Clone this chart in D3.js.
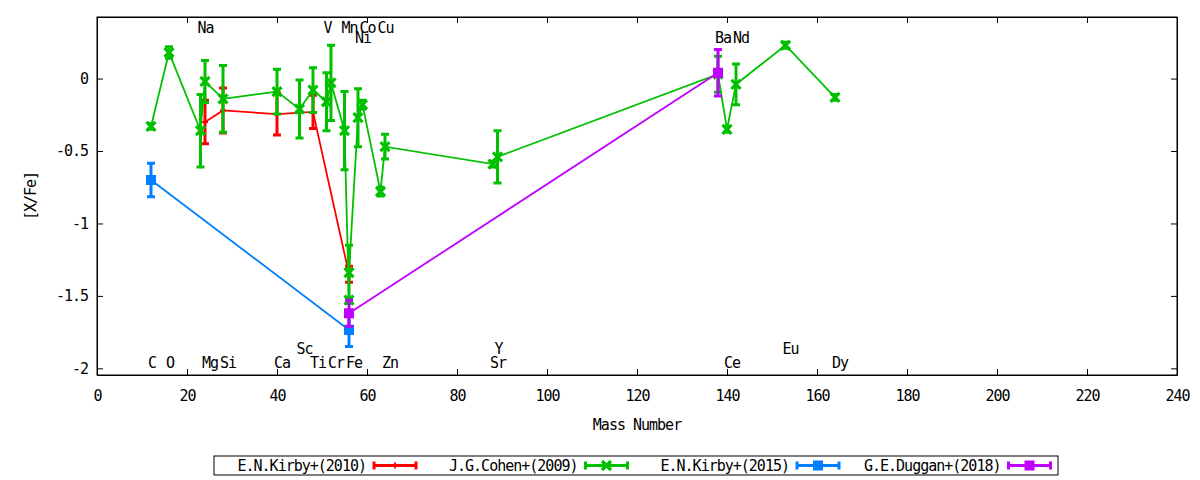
<!DOCTYPE html>
<html lang="en">
<head>
  <meta charset="UTF-8">
  <title>[X/Fe] vs Mass Number</title>
  <script src="https://d3js.org/d3.v7.min.js"></script>
  <style>
    body { margin: 0; background: #fff; }
    text {
      font-family: "DejaVu Sans Mono", monospace;
      font-size: 15px;
      letter-spacing: -1px;
      fill: #000;
    }
    .axis path, .axis line { stroke: #000; stroke-width: 1px; }
  </style>
</head>
<body>
  <div id="chart"></div>

  <script>
    // element labels along the plot
    const elementNames = ["C", "O", "Na", "Mg", "Si", "Ca", "Sc", "Ti", "V", "Cr", "Mn", "Fe", "Ni", "Co", "Cu", "Zn", "Sr", "Y", "Ba", "Ce", "Nd", "Eu", "Dy"];
    const elementMass  = [12, 16, 23, 24, 28, 40, 45, 48, 51, 52, 55, 56, 58, 59, 63, 64, 88, 89, 138, 140, 142, 153, 164];
    const elementRow   = [0, 0, 3, 0, 0, 0, 1, 0, 3, 0, 3, 0, 2, 3, 3, 0, 0, 1, 2, 0, 2, 1, 0];

    // E.N.Kirby+(2010)
    const kirby2010Mass = [24, 28, 40, 48, 56];
    const kirby2010Val  = [-0.30, -0.22, -0.245, -0.23, -1.35];
    const kirby2010Err  = [0.15, 0.155, 0.145, 0.115, 0.055];

    // J.G.Cohen+(2009)
    const cohen2009Mass = [12, 16, 23, 24, 28, 40, 45, 48, 51, 52, 55, 56, 56, 58, 59, 63, 64, 88, 89, 138, 140, 142, 153, 164];
    const cohen2009Val  = [-0.33, 0.18, -0.36, -0.02, -0.14, -0.09, -0.21, -0.08, -0.16, -0.03, -0.36, -1.53, -1.34, -0.27, -0.18, -0.78, -0.47, -0.59, -0.54, 0.03, -0.35, -0.04, 0.23, -0.13];
    const cohen2009Err  = [0.02, 0.04, 0.25, 0.145, 0.23, 0.155, 0.2, 0.155, 0.2, 0.26, 0.27, 0.02, 0.19, 0.2, 0.03, 0.03, 0.085, 0.02, 0.18, 0.124, 0.02, 0.14, 0.02, 0.02];

    // E.N.Kirby+(2015)
    const kirby2015Mass = [12, 56];
    const kirby2015Val  = [-0.70, -1.735];
    const kirby2015Err  = [0.115, 0.115];

    // G.E.Duggan+(2018)
    const duggan2018Mass = [56, 138];
    const duggan2018Val  = [-1.62, 0.04];
    const duggan2018Err  = [0.09, 0.16];

    const seriesLabels = ["E.N.Kirby+(2010)", "J.G.Cohen+(2009)", "E.N.Kirby+(2015)", "G.E.Duggan+(2018)"];
    const xTicks = [0, 20, 40, 60, 80, 100, 120, 140, 160, 180, 200, 220, 240];
    const yTicks = [0, -0.5, -1, -1.5, -2];

    const series = [
      { mass: kirby2010Mass, val: kirby2010Val, err: kirby2010Err, color: "#ff0000", marker: "plus" },
      { mass: cohen2009Mass, val: cohen2009Val, err: cohen2009Err, color: "#00c000", marker: "cross" },
      { mass: kirby2015Mass, val: kirby2015Val, err: kirby2015Err, color: "#0080ff", marker: "square" },
      { mass: duggan2018Mass, val: duggan2018Val, err: duggan2018Err, color: "#c000ff", marker: "square" }
    ];
    const labelRowY = [-1.965, -1.868, 0.283, 0.352];

    const W = 1200, H = 480;
    const plotL = 97, plotR = 1177, plotT = 17, plotB = 375;

    const svg = d3.select("#chart").append("svg")
      .attr("width", W).attr("height", H);

    const x = d3.scaleLinear().domain([0, 240]).range([plotL, plotR]);
    const y = d3.scaleLinear().domain([-2.046, 0.425]).range([plotB, plotT]);

    // axes, ticks pointing inward, mirrored
    svg.append("g").attr("class", "axis")
      .attr("transform", `translate(0,${plotB})`)
      .call(d3.axisBottom(x).tickValues(xTicks).tickSizeInner(-6).tickSizeOuter(0).tickPadding(15).tickFormat(d => String(d)));
    svg.append("g").attr("class", "axis")
      .attr("transform", `translate(0,${plotT})`)
      .call(d3.axisTop(x).tickValues(xTicks).tickSizeInner(-6).tickSizeOuter(0).tickFormat(""));
    svg.append("g").attr("class", "axis")
      .attr("transform", `translate(${plotL},0)`)
      .call(d3.axisLeft(y).tickValues(yTicks).tickSizeInner(-6).tickSizeOuter(0).tickPadding(9).tickFormat(d => String(d)));
    svg.append("g").attr("class", "axis")
      .attr("transform", `translate(${plotR},0)`)
      .call(d3.axisRight(y).tickValues(yTicks).tickSizeInner(-6).tickSizeOuter(0).tickFormat(""));
    svg.selectAll(".axis").attr("font-family", null).attr("font-size", null);

    svg.append("rect")
      .attr("x", plotL).attr("y", plotT)
      .attr("width", plotR - plotL).attr("height", plotB - plotT)
      .attr("fill", "none").attr("stroke", "#000");

    // axis titles
    svg.append("text")
      .attr("x", (plotL + plotR) / 2).attr("y", 425)
      .attr("text-anchor", "middle").attr("dominant-baseline", "central")
      .text("Mass Number");
    svg.append("text")
      .attr("transform", `translate(31,${(plotT + plotB) / 2}) rotate(-90)`)
      .attr("text-anchor", "middle").attr("dominant-baseline", "central")
      .text("[X/Fe]");

    // element labels
    elementNames.forEach((name, i) => {
      svg.append("text")
        .attr("x", x(elementMass[i]) - 3)
        .attr("y", y(labelRowY[elementRow[i]]))
        .attr("dominant-baseline", "central")
        .text(name);
    });

    function drawMarker(g, type, color, cx, cy) {
      if (type === "square") {
        g.append("rect")
          .attr("x", cx - 5).attr("y", cy - 5)
          .attr("width", 10).attr("height", 10)
          .attr("fill", color);
      } else if (type === "cross") {
        g.append("path")
          .attr("d", `M${cx - 4.5},${cy - 4.5}L${cx + 4.5},${cy + 4.5}M${cx - 4.5},${cy + 4.5}L${cx + 4.5},${cy - 4.5}`)
          .attr("stroke", color).attr("stroke-width", 3.2).attr("fill", "none");
      } else {
        g.append("path")
          .attr("d", `M${cx - 3},${cy}H${cx + 3}M${cx},${cy - 3}V${cy + 3}`)
          .attr("stroke", color).attr("stroke-width", 2).attr("fill", "none");
      }
    }

    // data: line, error bars, markers per series
    series.forEach(s => {
      const g = svg.append("g");
      const pts = s.mass.map((m, i) => ({ m, v: s.val[i], e: s.err[i] }));

      g.append("path")
        .datum(pts)
        .attr("fill", "none")
        .attr("stroke", s.color)
        .attr("stroke-width", 1.8)
        .attr("d", d3.line().x(d => x(d.m)).y(d => y(d.v)));

      pts.forEach(d => {
        const px = x(d.m), y0 = y(d.v - d.e), y1 = y(d.v + d.e);
        g.append("path")
          .attr("d", `M${px},${y0}V${y1}M${px - 4},${y0}H${px + 4}M${px - 4},${y1}H${px + 4}`)
          .attr("stroke", s.color).attr("stroke-width", 3).attr("fill", "none");
      });

      pts.forEach(d => drawMarker(g, s.marker, s.color, x(d.m), y(d.v)));
    });

    // legend
    const legend = svg.append("g");
    legend.append("rect")
      .attr("x", 214).attr("y", 456)
      .attr("width", 844).attr("height", 19)
      .attr("fill", "none").attr("stroke", "#000");

    seriesLabels.forEach((label, i) => {
      const tx = 366 + i * 211.5, ly = 465.5;
      legend.append("text")
        .attr("x", tx).attr("y", ly)
        .attr("text-anchor", "end").attr("dominant-baseline", "central")
        .text(label);
      const s = series[i];
      const x0 = tx + 8, x1 = tx + 50;
      legend.append("path")
        .attr("d", `M${x0},${ly}H${x1}M${x0},${ly - 4}V${ly + 4}M${x1},${ly - 4}V${ly + 4}`)
        .attr("stroke", s.color).attr("stroke-width", 3).attr("fill", "none");
      drawMarker(legend, s.marker, s.color, (x0 + x1) / 2, ly);
    });
  </script>
</body>
</html>
